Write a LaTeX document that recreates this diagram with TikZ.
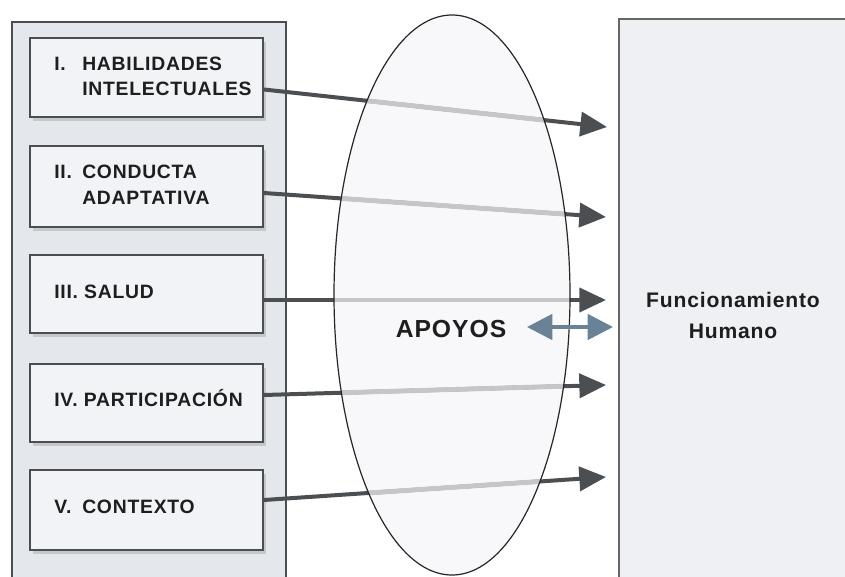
\documentclass[tikz,border=0pt]{standalone}
\usepackage{fontspec}
\setmainfont{Liberation Sans}[LetterSpace=4]
\usetikzlibrary{arrows.meta,shadows}
\definecolor{panelfill}{HTML}{E4E8EC}
\definecolor{rpanelfill}{HTML}{EEF0F4}
\definecolor{boxfill}{HTML}{F1F3F6}
\definecolor{edge}{HTML}{4A4E52}
\definecolor{darkarrow}{HTML}{4B4F52}
\definecolor{lightarrow}{HTML}{C4C6C8}
\definecolor{ellfill}{HTML}{F8F8FA}
\definecolor{steel}{HTML}{6A8296}
\definecolor{txt}{HTML}{1E1E1E}
\tikzset{
  boxstyle/.style={draw=edge, line width=1.3pt, fill=boxfill,
    drop shadow={shadow xshift=2pt, shadow yshift=-3pt, opacity=0.3, fill=gray}},
  lbl/.style={anchor=base west, inner sep=0pt, font=\bfseries\fontsize{14.5}{17}\selectfont, text=txt},
  darrow/.style={draw=darkarrow, line width=3pt, -{Triangle[length=20pt, width=18pt]}},
  lseg/.style={draw=lightarrow, line width=3.6pt},
}
\begin{document}
\begin{tikzpicture}[x=0.75pt, y=-0.75pt]
\useasboundingbox (0,0) rectangle (845,577);
\fill[white] (0,0) rectangle (845,577);
% panels
\draw[draw=edge, line width=1.2pt, fill=panelfill] (12,22) rectangle (286,580);
\draw[draw=gray!80!black, line width=1.2pt, fill=rpanelfill] (619,19) rectangle (850,580);
% boxes
\node[boxstyle, minimum width=233*0.75pt, minimum height=79*0.75pt] (b1) at (146.5,77.5) {};
\node[boxstyle, minimum width=233*0.75pt, minimum height=81*0.75pt] (b2) at (146.5,186.5) {};
\node[boxstyle, minimum width=233*0.75pt, minimum height=78*0.75pt] (b3) at (146.5,294) {};
\node[boxstyle, minimum width=233*0.75pt, minimum height=78*0.75pt] (b4) at (146.5,403) {};
\node[boxstyle, minimum width=233*0.75pt, minimum height=80*0.75pt] (b5) at (146.5,510) {};
% box labels
\node[lbl] (l1a) at (54,71) {I.};
\node[lbl] (l1b) at (82,71) {HABILIDADES};
\node[lbl] (l1c) at (82,96) {INTELECTUALES};
\node[lbl] (l2a) at (54,179) {II.};
\node[lbl] (l2b) at (82,179) {CONDUCTA};
\node[lbl] (l2c) at (82,205) {ADAPTATIVA};
\node[lbl] (l3) at (54,298) {III. SALUD};
\node[lbl] (l4) at (54,406) {IV. PARTICIPACIÓN};
\node[lbl] (l5a) at (54,513) {V.};
\node[lbl] (l5b) at (82,513) {CONTEXTO};
% ellipse
\fill[ellfill] (452,295) ellipse [x radius=118, y radius=280];
% arrow targets
\coordinate (t1) at (607,127);
\coordinate (t2) at (606,217);
\coordinate (t3) at (606,300);
\coordinate (t4) at (606,385);
\coordinate (t5) at (606,477);
\coordinate (s1) at ([yshift=-12*0.75pt]b1.east);
\coordinate (s2) at ([yshift=-6.5*0.75pt]b2.east);
\coordinate (s3) at ([yshift=-6*0.75pt]b3.east);
\coordinate (s4) at ([yshift=8*0.75pt]b4.east);
\coordinate (s5) at ([yshift=10*0.75pt]b5.east);
\draw[darrow] (s1) -- (t1);
\draw[darrow] (s2) -- (t2);
\draw[darrow] (s3) -- (t3);
\draw[darrow] (s4) -- (t4);
\draw[darrow] (s5) -- (t5);
\begin{scope}
\clip (452,295) ellipse [x radius=118, y radius=280];
\draw[lseg] (s1) -- (t1);
\draw[lseg] (s2) -- (t2);
\draw[lseg] (s3) -- (t3);
\draw[lseg] (s4) -- (t4);
\draw[lseg] (s5) -- (t5);
\end{scope}
\draw[black!85, line width=0.9pt] (452,295) ellipse [x radius=118, y radius=280];
% texts
\node[anchor=base, inner sep=0pt, font=\bfseries\fontsize{18.5}{21}\selectfont, text=txt] (apoyos) at (451,337) {APOYOS};
\node[anchor=base, inner sep=0pt, font=\bfseries\fontsize{15.8}{18}\selectfont, text=txt] (func) at (733,307) {Funcionamiento};
\node[anchor=base, inner sep=0pt, font=\bfseries\fontsize{15.8}{18}\selectfont, text=txt] (hum) at (733,338) {Humano};
% double arrow
\coordinate (da) at (527,327);
\coordinate (db) at (613,327);
\draw[steel, line width=2.8pt, {Triangle[length=19pt, width=19pt]}-{Triangle[length=19pt, width=19pt]}] (da) -- (db);
\end{tikzpicture}
\end{document}
